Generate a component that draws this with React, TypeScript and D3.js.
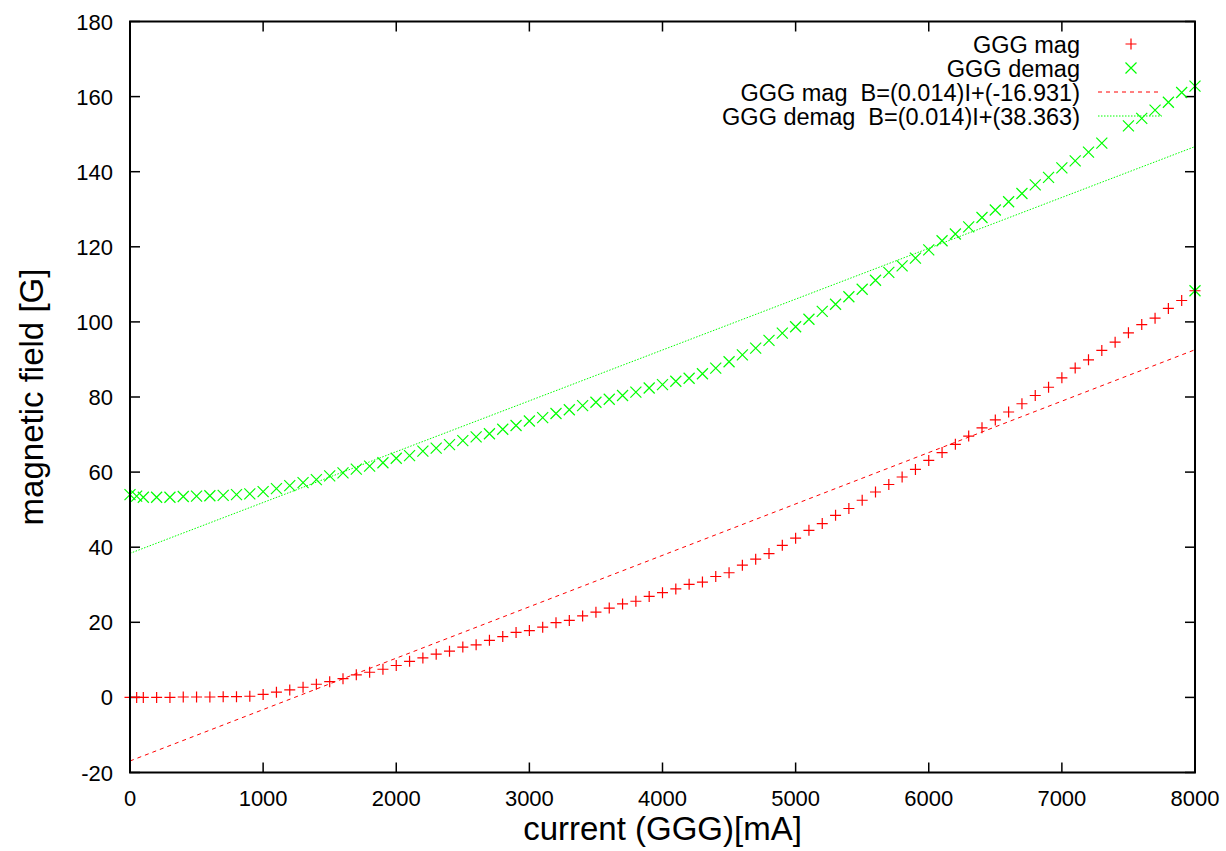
import React from "react";
import * as d3 from "d3";

// current [mA] and magnetic field [G]
const currentMag = [
  0, 50, 100, 200, 300, 400, 500, 600, 700, 800, 900, 1000, 1100, 1200, 1300,
  1400, 1500, 1600, 1700, 1800, 1900, 2000, 2100, 2200, 2300, 2400, 2500, 2600,
  2700, 2800, 2900, 3000, 3100, 3200, 3300, 3400, 3500, 3600, 3700, 3800, 3900,
  4000, 4100, 4200, 4300, 4400, 4500, 4600, 4700, 4800, 4900, 5000, 5100, 5200,
  5300, 5400, 5500, 5600, 5700, 5800, 5900, 6000, 6100, 6200, 6300, 6400, 6500,
  6600, 6700, 6800, 6900, 7000, 7100, 7200, 7300, 7400, 7500, 7600, 7700, 7800,
  7900, 8000,
];
const fieldMag = [
  0, 0, 0, 0, 0, 0.1, 0.1, 0.1, 0.2, 0.2, 0.3, 0.8, 1.4, 2.0, 2.7, 3.5, 4.2,
  5.0, 6.0, 6.7, 7.5, 8.5, 9.6, 10.5, 11.5, 12.3, 13.4, 14.0, 15.2, 16.2, 17.3,
  17.8, 18.7, 19.9, 20.5, 21.7, 22.7, 23.8, 24.9, 25.6, 26.9, 27.9, 28.9, 30.1,
  30.7, 32.2, 33.2, 35.2, 36.8, 38.3, 40.5, 42.4, 44.5, 46.3, 48.5, 50.3, 52.5,
  54.7, 56.7, 58.7, 60.7, 63.1, 65.2, 67.4, 69.6, 71.8, 73.9, 76.0, 78.2, 80.4,
  82.6, 85.1, 87.7, 89.9, 92.4, 94.6, 97.1, 99.3, 101.0, 103.6, 105.7, 108.3,
];

const currentDemag = [
  8000, 0, 50, 100, 200, 300, 400, 500, 600, 700, 800, 900, 1000, 1100, 1200,
  1300, 1400, 1500, 1600, 1700, 1800, 1900, 2000, 2100, 2200, 2300, 2400, 2500,
  2600, 2700, 2800, 2900, 3000, 3100, 3200, 3300, 3400, 3500, 3600, 3700, 3800,
  3900, 4000, 4100, 4200, 4300, 4400, 4500, 4600, 4700, 4800, 4900, 5000, 5100,
  5200, 5300, 5400, 5500, 5600, 5700, 5800, 5900, 6000, 6100, 6200, 6300, 6400,
  6500, 6600, 6700, 6800, 6900, 7000, 7100, 7200, 7300, 7500, 7600, 7700, 7800,
  7900, 8000,
];
const fieldDemag = [
  108.3, 54.0, 53.6, 53.3, 53.3, 53.3, 53.5, 53.6, 53.7, 53.8, 54.0, 54.2, 54.8,
  55.6, 56.4, 57.2, 58.0, 59.0, 59.8, 60.8, 61.6, 62.5, 63.7, 64.4, 65.6, 66.4,
  67.3, 68.4, 69.4, 70.2, 71.4, 72.4, 73.6, 74.5, 75.6, 76.6, 77.7, 78.6, 79.4,
  80.4, 81.3, 82.4, 83.3, 84.2, 85.0, 86.2, 87.7, 89.4, 91.2, 93.0, 95.1, 97.0,
  98.7, 100.7, 102.8, 104.7, 106.7, 108.7, 111.1, 113.2, 114.9, 117.0, 119.2,
  121.6, 123.4, 125.3, 127.8, 129.8, 132.0, 134.2, 136.5, 138.5, 141.0, 142.9,
  145.2, 147.6, 152.2, 154.2, 156.4, 158.5, 161.1, 162.8,
];

// linear fits B = a*I + b
const magFit = { a: 0.01369, b: -16.931 };
const demagFit = { a: 0.01354, b: 38.363 };

const xTicks = [0, 1000, 2000, 3000, 4000, 5000, 6000, 7000, 8000];
const yTicks = [-20, 0, 20, 40, 60, 80, 100, 120, 140, 160, 180];

const legendLabels = [
  "GGG mag",
  "GGG demag",
  "GGG mag  B=(0.014)I+(-16.931)",
  "GGG demag  B=(0.014)I+(38.363)",
];

const W = 1226;
const H = 851;
const left = 130;
const right = 1195;
const top = 21.5;
const bottom = 772.5;
const font = "'Liberation Sans', Arial, Helvetica, sans-serif";
const RED = "#ff0000";
const GREEN = "#00ff00";

const plusPath = (s: number) => `M${-s},0H${s}M0,${-s}V${s}`;
const crossPath = (s: number) => `M${-s},${-s}L${s},${s}M${-s},${s}L${s},${-s}`;

export default function App() {
  const x = d3.scaleLinear().domain([0, 8000]).range([left, right]);
  const y = d3.scaleLinear().domain([-20, 180]).range([bottom, top]);

  const fitLine = (f: { a: number; b: number }) =>
    d3
      .line<number>()
      .x((d) => x(d))
      .y((d) => y(f.a * d + f.b))(x.domain());

  const legendY = [44, 68, 92, 116];

  return (
    <svg
      width={W}
      height={H}
      style={{ position: "absolute", left: 0, top: 0, background: "#fff" }}
      fontFamily={font}
    >
      <defs>
        <clipPath id="plot">
          <rect x={left} y={top} width={right - left} height={bottom - top} />
        </clipPath>
      </defs>

      {/* ticks, mirrored on all sides, pointing inward */}
      <g stroke="#000" strokeWidth={1.5}>
        {xTicks.map((t) => (
          <g key={"xt" + t}>
            <line x1={x(t)} x2={x(t)} y1={bottom} y2={bottom - 10} />
            <line x1={x(t)} x2={x(t)} y1={top} y2={top + 10} />
          </g>
        ))}
        {yTicks.map((t) => (
          <g key={"yt" + t}>
            <line x1={left} x2={left + 10} y1={y(t)} y2={y(t)} />
            <line x1={right} x2={right - 10} y1={y(t)} y2={y(t)} />
          </g>
        ))}
      </g>

      {/* tick labels */}
      <g fontSize={22} fill="#000">
        {xTicks.map((t) => (
          <text key={"xl" + t} x={x(t)} y={806} textAnchor="middle">
            {t}
          </text>
        ))}
        {yTicks.map((t) => (
          <text key={"yl" + t} x={113} y={y(t) + 8} textAnchor="end">
            {t}
          </text>
        ))}
      </g>

      {/* axis titles */}
      <text x={(left + right) / 2} y={840} textAnchor="middle" fontSize={33}>
        current (GGG)[mA]
      </text>
      <text
        transform={`translate(43,${(top + bottom) / 2}) rotate(-90)`}
        textAnchor="middle"
        fontSize={33}
      >
        magnetic field [G]
      </text>

      <g clipPath="url(#plot)" fill="none" strokeWidth={1}>
        <path d={fitLine(magFit) || ""} stroke={RED} strokeDasharray="4,4" />
        <path d={fitLine(demagFit) || ""} stroke={GREEN} strokeDasharray="1.5,1.5" />
      </g>

      <g fill="none" strokeWidth={1.2}>
        {currentMag.map((c, i) => (
          <path
            key={"m" + i}
            d={plusPath(5.5)}
            transform={`translate(${x(c)},${y(fieldMag[i])})`}
            stroke={RED}
          />
        ))}
        {currentDemag.map((c, i) => (
          <path
            key={"d" + i}
            d={crossPath(5.5)}
            transform={`translate(${x(c)},${y(fieldDemag[i])})`}
            stroke={GREEN}
          />
        ))}
      </g>

      {/* legend */}
      <g fontSize={23.5}>
        {legendLabels.map((l, i) => (
          <text
            key={l}
            x={1080}
            y={legendY[i] + 8.5}
            textAnchor="end"
            style={{ whiteSpace: "pre" }}
          >
            {l}
          </text>
        ))}
        <path d={plusPath(5.5)} transform={`translate(1131,${legendY[0]})`} stroke={RED} strokeWidth={1.2} />
        <path d={crossPath(5.5)} transform={`translate(1131,${legendY[1]})`} stroke={GREEN} strokeWidth={1.2} />
        <line x1={1098} x2={1162} y1={legendY[2]} y2={legendY[2]} stroke={RED} strokeDasharray="4,4" />
        <line x1={1098} x2={1162} y1={legendY[3]} y2={legendY[3]} stroke={GREEN} strokeDasharray="1.5,1.5" />
      </g>

      {/* frame */}
      <rect
        x={left}
        y={top}
        width={right - left}
        height={bottom - top}
        fill="none"
        stroke="#000"
        strokeWidth={2}
      />
    </svg>
  );
}
